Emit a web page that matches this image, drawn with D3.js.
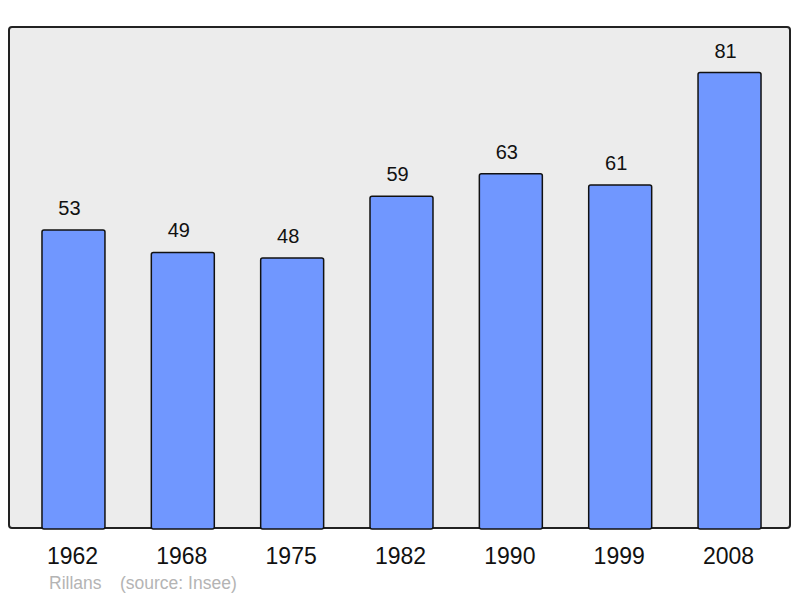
<!DOCTYPE html>
<html>
<head>
<meta charset="utf-8">
<script src="https://cdn.jsdelivr.net/npm/d3@7"></script>
<style>
  body { margin: 0; background: #fff; }
  text { font-family: "Liberation Sans", Arial, sans-serif; }
</style>
</head>
<body>
<div id="chart"></div>
<script>
let years = ["1962", "1968", "1975", "1982", "1990", "1999", "2008"];
let population = [53, 49, 48, 59, 63, 61, 81];
let town = "Rillans";
let source = "(source: Insee)";

let width = 800, height = 598;
let panel = {left: 9, top: 27, right: 790, bottom: 528};

let svg = d3.select("#chart")
  .append("svg")
    .attr("width", width)
    .attr("height", height);

// background panel
svg.append("rect")
  .attr("x", panel.left)
  .attr("y", panel.top)
  .attr("width", panel.right - panel.left)
  .attr("height", panel.bottom - panel.top)
  .attr("rx", 3)
  .attr("fill", "#ececec")
  .attr("stroke", "#222")
  .attr("stroke-width", 2);

let x = d3.scaleBand()
  .domain(years)
  .range([18.8, 784.2])
  .paddingInner(0.424)
  .paddingOuter(0.212);

let y = d3.scaleLinear()
  .domain([0, d3.max(population) * 1.1])
  .range([panel.bottom, panel.top]);

let data = years.map(function(d, i) { return {year: d, value: population[i]}; });

svg.selectAll("rect.bar")
  .data(data)
  .enter()
  .append("rect")
    .attr("class", "bar")
    .attr("x", function(d) { return x(d.year); })
    .attr("y", function(d) { return y(d.value); })
    .attr("width", x.bandwidth())
    .attr("height", function(d) { return panel.bottom - y(d.value) + 1; })
    .attr("rx", 2)
    .attr("fill", "#7097ff")
    .attr("stroke", "#111")
    .attr("stroke-width", 1.5);

// value labels (sit a little left of bar centre, as in the original)
svg.selectAll("text.val")
  .data(data)
  .enter()
  .append("text")
    .attr("class", "val")
    .attr("text-anchor", "middle")
    .attr("x", function(d) { return x(d.year) + x.bandwidth() / 2 - 4; })
    .attr("y", function(d) { return y(d.value) - 15; })
    .attr("font-size", 20)
    .attr("fill", "#111")
    .text(function(d) { return d.value; });

// year labels
let xAxis = svg.append("g")
  .attr("transform", "translate(-1," + panel.bottom + ")")
  .call(d3.axisBottom(x).tickSize(0).tickPadding(20));
xAxis.select(".domain").remove();
xAxis.selectAll("text")
  .attr("font-size", 23)
  .attr("font-family", "Liberation Sans, Arial, sans-serif")
  .attr("fill", "#111");

// footer
svg.append("text")
  .attr("x", 49)
  .attr("y", 589)
  .attr("font-size", 17.5)
  .attr("fill", "#b4b4b4")
  .text(town);
svg.append("text")
  .attr("x", 120)
  .attr("y", 589)
  .attr("font-size", 17.5)
  .attr("fill", "#b4b4b4")
  .text(source);
</script>
</body>
</html>
